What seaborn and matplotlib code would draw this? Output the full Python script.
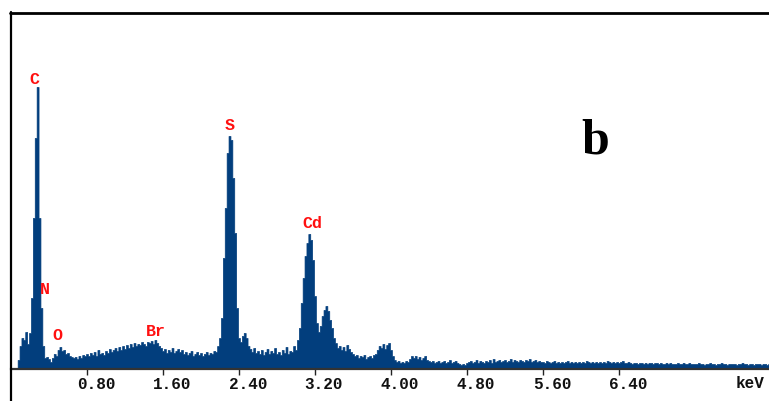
import numpy as np
import pandas as pd
import matplotlib
matplotlib.use("Agg")
import matplotlib.pyplot as plt
import matplotlib.transforms as mtransforms
from matplotlib.lines import Line2D
import seaborn as sns

# ---- data: EDS spectrum, 0.02 keV channels starting at 0.00 keV ----
channel_start = 0.00
channel_width = 0.02
counts = [
    0, 0, 0, 0, 8, 22, 30, 28, 36, 24,            # 0.00-0.18
    35, 70, 150, 230, 281, 150, 60, 22, 10, 11,   # 0.20-0.38
    9, 6, 10, 14, 12, 18, 21, 17, 18, 14,         # 0.40-0.58
    15, 12, 11, 10, 11, 9, 12, 10, 13, 12,        # 0.60-0.78
    14, 12, 15, 13, 16, 12, 18, 14, 15, 13,       # 0.80-0.98
    17, 15, 19, 16, 18, 20, 17, 21, 18, 22,       # 1.00-1.18
    19, 23, 20, 24, 21, 25, 22, 24, 23, 26,       # 1.20-1.38
    24, 22, 26, 25, 27, 24, 28, 25, 22, 20,       # 1.40-1.58
    17, 19, 15, 18, 16, 20, 15, 17, 19, 16,       # 1.60-1.78
    18, 14, 16, 13, 15, 17, 12, 14, 16, 13,       # 1.80-1.98
    15, 12, 14, 16, 13, 15, 14, 17, 16, 22,       # 2.00-2.18
    30, 50, 110, 160, 215, 232, 228, 190, 135, 60,  # 2.20-2.38
    30, 26, 32, 35, 30, 22, 19, 16, 20, 15,       # 2.40-2.58
    17, 14, 18, 13, 16, 19, 14, 17, 15, 20,       # 2.60-2.78
    14, 16, 13, 18, 15, 21, 14, 17, 16, 22,       # 2.80-2.98
    18, 28, 40, 65, 90, 112, 125, 134, 128, 108,  # 3.00-3.18
    72, 45, 36, 42, 52, 58, 62, 57, 48, 40,       # 3.20-3.38
    30, 25, 20, 22, 18, 21, 17, 23, 19, 16,       # 3.40-3.58
    14, 12, 13, 10, 12, 11, 13, 9, 11, 12,        # 3.60-3.78
    10, 13, 14, 18, 22, 20, 24, 19, 23, 25,       # 3.80-3.98
    18, 12, 8, 6, 7, 5, 6, 5, 7, 6,               # 4.00-4.18
    9, 12, 10, 12, 9, 11, 8, 10, 12, 8,           # 4.20-4.38
    7, 6, 7, 5, 6, 7, 5, 6, 7, 5,                 # 4.40-4.58
    6, 8, 5, 6, 7, 5, 4, 3, 4, 3,                 # 4.60-4.78
    5, 6, 7, 5, 6, 8, 5, 7, 6, 5,                 # 4.80-4.98
    7, 6, 8, 5, 9, 6, 7, 8, 6, 7,                 # 5.00-5.18
    8, 6, 7, 9, 6, 8, 7, 6, 8, 7,                 # 5.20-5.38
    6, 8, 7, 9, 6, 7, 8, 6, 7, 6,                 # 5.40-5.58
    6, 5, 7, 6, 5, 6, 7, 5, 6, 5,                 # 5.60-5.78
    6, 5, 6, 7, 5, 6, 5, 6, 5, 6,                 # 5.80-5.98
    5, 6, 5, 7, 6, 5, 6, 5, 6, 5,                 # 6.00-6.18
    6, 5, 6, 5, 7, 6, 5, 6, 5, 6,                 # 6.20-6.38
    5, 6, 7, 5, 5, 6, 5, 4, 5, 5,                 # 6.40-6.58
    4, 5, 5, 4, 5, 4, 5, 5, 4, 5,                 # 6.60-6.78
    5, 4, 5, 4, 4, 5, 4, 5, 4, 4,                 # 6.80-6.98
    4, 5, 4, 4, 5, 4, 4, 5, 4, 4,                 # 7.00-7.18
    4, 4, 5, 4, 4, 3, 4, 4, 5, 4,                 # 7.20-7.38
    4, 3, 4, 4, 5, 4, 4, 3, 4, 4,                 # 7.40-7.58
    4, 4, 3, 4, 4, 5, 4, 4, 3, 4,                 # 7.60-7.78
    4, 3, 4, 4, 4, 3, 4, 4, 3, 4,                 # 7.80-7.98
]

peak_labels = ["C", "N", "O", "Br", "S", "Cd"]
peak_label_x = [0.25, 0.36, 0.49, 1.52, 2.30, 3.17]      # keV
peak_label_y = [288, 79, 32, 37, 242, 145]               # counts

tick_values = [0.80, 1.60, 2.40, 3.20, 4.00, 4.80, 5.60, 6.40]
tick_labels = ["0.80", "1.60", "2.40", "3.20", "4.00", "4.80", "5.60", "6.40"]
unit_label = "keV"
panel_label = "b"

# ---- build table ----
energy = np.round(channel_start + channel_width * np.arange(len(counts)), 2)
df = pd.DataFrame({"energy": energy, "counts": counts})

sns.set_theme(style="white")
plt.rcParams["font.family"] = ["Liberation Mono", "DejaVu Sans Mono"]

W, H, DPI = 769, 401, 100
fig = plt.figure(figsize=(W / DPI, H / DPI), dpi=DPI)
fig.patch.set_facecolor("white")

left_px, right_px, top_px, base_px = 11, 769, 13, 369
ax = fig.add_axes([left_px / W, 1 - base_px / H,
                   (right_px - left_px) / W, (base_px - top_px) / H])
ax.set_facecolor("none")

spec_color = "#023e7d"
sns.histplot(data=df, x="energy", weights="counts",
             binwidth=channel_width,
             binrange=(channel_start - channel_width / 2,
                       channel_start + channel_width * (len(counts) - 0.5)),
             element="step", fill=True, color=spec_color, alpha=1.0,
             linewidth=0.5, edgecolor=spec_color, ax=ax)

ax.set_xlim(0, (right_px - left_px) / 95.0)
ax.set_ylim(-1, base_px - top_px - 1)
ax.set_xlabel("")
ax.set_ylabel("")
ax.set_yticks([])

for s in ["left", "right", "top"]:
    ax.spines[s].set_visible(False)
ax.spines["bottom"].set_color("#333333")
ax.spines["bottom"].set_linewidth(1.6)

ax.set_xticks(tick_values)
ax.set_xticklabels(tick_labels)
ax.tick_params(axis="x", direction="out", length=4.5, width=1.0, color="#222222",
               pad=1.5, labelsize=11.5, labelcolor="#111111", bottom=True)
offset = mtransforms.ScaledTranslation(9 / DPI, 0, fig.dpi_scale_trans)
for lab in ax.get_xticklabels():
    lab.set_transform(lab.get_transform() + offset)
    lab.set_fontweight("bold")

fig.text(750 / W, 1 - 384 / H, unit_label, ha="center", va="center",
         fontsize=11.5, fontweight="bold", color="#111111",
         family=["Liberation Mono"])

for lab, lx, ly in zip(peak_labels, peak_label_x, peak_label_y):
    ax.text(lx, ly, lab, ha="center", va="center", color="#ff1010",
            fontsize=12, fontweight="bold", family=["Liberation Mono"])

ax.text(6.15, 227, panel_label, ha="center", va="center", fontsize=36,
        fontweight="bold", family=["Liberation Serif"], color="black")

# outer frame: top and left border lines
fig.add_artist(Line2D([10 / W, 1.0], [1 - 13 / H, 1 - 13 / H],
                      transform=fig.transFigure, color="black", lw=2.0))
fig.add_artist(Line2D([10.5 / W, 10.5 / W], [0, 1 - 12 / H],
                      transform=fig.transFigure, color="black", lw=1.6))

fig.savefig("out.png", dpi=DPI, facecolor="white")
